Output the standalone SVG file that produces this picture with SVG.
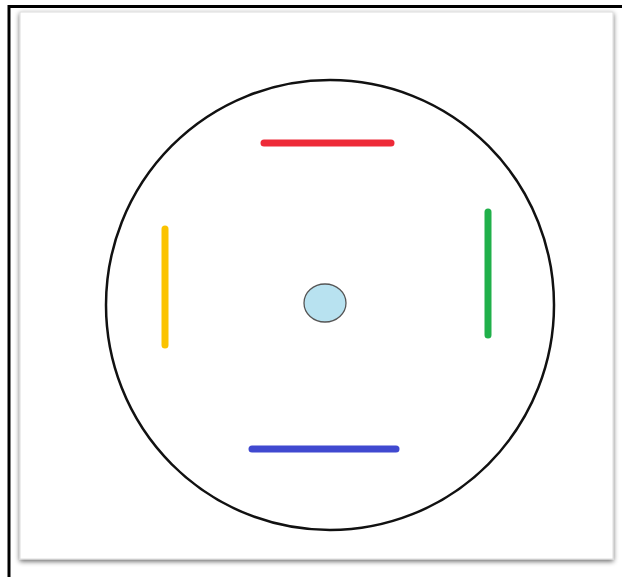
<svg xmlns="http://www.w3.org/2000/svg" width="622" height="577" viewBox="0 0 622 577">
<defs>
<filter id="sh" x="-5%" y="-5%" width="110%" height="110%">
<feGaussianBlur in="SourceAlpha" stdDeviation="2.5"/>
<feOffset dx="0" dy="2"/>
<feComponentTransfer><feFuncA type="linear" slope="0.6"/></feComponentTransfer>
<feMerge><feMergeNode/><feMergeNode in="SourceGraphic"/></feMerge>
</filter>
<style>
.bar{stroke-width:7;stroke-linecap:round;fill:none}
</style>
</defs>
<rect width="622" height="577" fill="#ffffff"/>
<path d="M9 577 V6.5 H622" fill="none" stroke="#000" stroke-width="3"/>
<rect x="20" y="12" width="593" height="547" fill="#fff" stroke="#dcdcdc" stroke-width="1" filter="url(#sh)"/>
<g id="circle"><ellipse cx="330" cy="305" rx="224" ry="225" fill="none" stroke="#111" stroke-width="2.5"/></g>
<g id="hub"><ellipse cx="325" cy="303" rx="21" ry="19" fill="#b8e2f0" stroke="#555" stroke-width="1.3"/></g>
<g id="red"><line class="bar" x1="264" y1="143" x2="391" y2="143" stroke="#ee2a38"/></g>
<g id="green"><line class="bar" x1="488" y1="212" x2="488" y2="335" stroke="#20b04a"/></g>
<g id="yellow"><line class="bar" x1="165" y1="229" x2="165" y2="345" stroke="#fbc300"/></g>
<g id="blue"><line class="bar" x1="252" y1="449" x2="396" y2="449" stroke="#4049d0"/></g>
<g id="connectors"></g>
</svg>
